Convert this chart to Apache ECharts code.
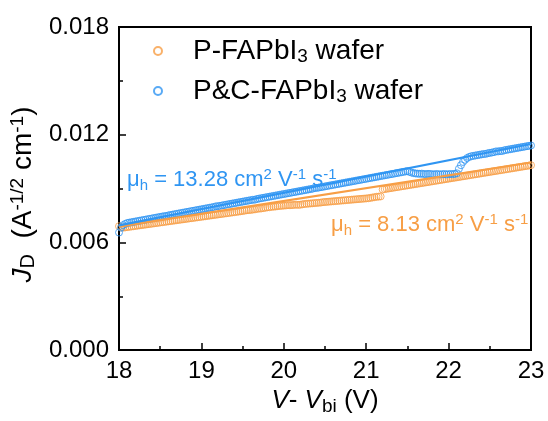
<!DOCTYPE html>
<html><head><meta charset="utf-8">
<script src="https://cdn.jsdelivr.net/npm/echarts@6/dist/echarts.min.js"></script>
<style>html,body{margin:0;padding:0;background:#fff}#c{width:548px;height:421px}</style>
</head><body><div id="c"></div>
<script>
// ---- data ----
const xValues = [
18,18.025,18.05,18.075,18.1,18.125,18.15,18.175,18.2,18.225,
18.25,18.275,18.3,18.325,18.35,18.375,18.4,18.425,18.45,18.475,
18.5,18.525,18.55,18.575,18.6,18.625,18.65,18.675,18.7,18.725,
18.75,18.775,18.8,18.825,18.85,18.875,18.9,18.925,18.95,18.975,
19,19.025,19.05,19.075,19.1,19.125,19.15,19.175,19.2,19.225,
19.25,19.275,19.3,19.325,19.35,19.375,19.4,19.425,19.45,19.475,
19.5,19.525,19.55,19.575,19.6,19.625,19.65,19.675,19.7,19.725,
19.75,19.775,19.8,19.825,19.85,19.875,19.9,19.925,19.95,19.975,
20,20.025,20.05,20.075,20.1,20.125,20.15,20.175,20.2,20.225,
20.25,20.275,20.3,20.325,20.35,20.375,20.4,20.425,20.45,20.475,
20.5,20.525,20.55,20.575,20.6,20.625,20.65,20.675,20.7,20.725,
20.75,20.775,20.8,20.825,20.85,20.875,20.9,20.925,20.95,20.975,
21,21.025,21.05,21.075,21.1,21.125,21.15,21.175,21.2,21.225,
21.25,21.275,21.3,21.325,21.35,21.375,21.4,21.425,21.45,21.475,
21.5,21.525,21.55,21.575,21.6,21.625,21.65,21.675,21.7,21.725,
21.75,21.775,21.8,21.825,21.85,21.875,21.9,21.925,21.95,21.975,
22,22.025,22.05,22.075,22.1,22.125,22.15,22.175,22.2,22.225,
22.25,22.275,22.3,22.325,22.35,22.375,22.4,22.425,22.45,22.475,
22.5,22.525,22.55,22.575,22.6,22.625,22.65,22.675,22.7,22.725,
22.75,22.775,22.8,22.825,22.85,22.875,22.9,22.925,22.95,22.975,
23];

const pFAPbI3 = [
0.00690,0.00684,0.006820,0.006836,0.006852,0.006868,0.006884,0.006900,0.006916,0.006932,
0.006948,0.006964,0.006980,0.006996,0.007012,0.007028,0.007044,0.007060,0.007076,0.007092,
0.007108,0.007124,0.007140,0.007156,0.007172,0.007188,0.007204,0.007220,0.007236,0.007252,
0.007268,0.007284,0.007300,0.007316,0.007332,0.007348,0.007364,0.007380,0.007396,0.007412,
0.007428,0.007444,0.007460,0.007476,0.007492,0.007508,0.007524,0.007540,0.007556,0.007572,
0.007588,0.007604,0.007620,0.007636,0.007652,0.007668,0.007684,0.007700,0.007716,0.007732,
0.007748,0.007770,0.007790,0.007800,0.007810,0.007830,0.007840,0.007870,0.007880,0.007890,
0.007910,0.007930,0.007950,0.007960,0.007980,0.007990,0.008000,0.008020,0.008030,0.008040,
0.008050,0.008060,0.008080,0.008070,0.008080,0.008090,0.008100,0.008090,0.008100,0.008120,
0.008140,0.008150,0.008160,0.008170,0.008180,0.008190,0.008200,0.008210,0.008220,0.008240,
0.008250,0.008260,0.008270,0.008280,0.008290,0.008300,0.008310,0.008320,0.008330,0.008340,
0.008350,0.008360,0.008370,0.008380,0.008390,0.008400,0.008410,0.008420,0.008430,0.008440,
0.008450,0.008460,0.008480,0.008500,0.008520,0.008540,0.008550,0.008560,0.008950,0.008969,
0.008988,0.009006,0.009025,0.009044,0.009063,0.009081,0.009100,0.009119,0.009138,0.009156,
0.009175,0.009194,0.009213,0.009231,0.009250,0.009269,0.009288,0.009306,0.009325,0.009344,
0.009363,0.009381,0.009400,0.009419,0.009438,0.009456,0.009475,0.009494,0.009513,0.009531,
0.009550,0.009569,0.009588,0.009606,0.009625,0.009644,0.009663,0.009681,0.009700,0.009719,
0.009738,0.009756,0.009775,0.009794,0.009813,0.009831,0.009850,0.009869,0.009888,0.009906,
0.009925,0.009944,0.009963,0.009981,0.010000,0.010019,0.010038,0.010056,0.010075,0.010094,
0.010113,0.010131,0.010150,0.010169,0.010188,0.010206,0.010225,0.010244,0.010263,0.010281,
0.010300];

const pcFAPbI3 = [
0.00655,0.00682,0.00696,0.00703,0.00708,0.007101,0.007123,0.007144,0.007165,0.007186,
0.007208,0.007229,0.007250,0.007271,0.007293,0.007314,0.007335,0.007356,0.007378,0.007399,
0.007420,0.007441,0.007463,0.007470,0.007505,0.007526,0.007548,0.007569,0.007590,0.007611,
0.007633,0.007654,0.007675,0.007696,0.007718,0.007739,0.007760,0.007781,0.007803,0.007824,
0.007845,0.007866,0.007888,0.007909,0.007930,0.007951,0.007973,0.008010,0.008015,0.008036,
0.008058,0.008079,0.008100,0.008121,0.008143,0.008164,0.008185,0.008206,0.008228,0.008249,
0.008270,0.008291,0.008313,0.008334,0.008355,0.008376,0.008380,0.008419,0.008440,0.008461,
0.008483,0.008504,0.008525,0.008546,0.008568,0.008589,0.008610,0.008631,0.008653,0.008674,
0.008695,0.008716,0.008738,0.008759,0.008780,0.008801,0.008823,0.008844,0.008865,0.008886,
0.008908,0.008929,0.008950,0.008971,0.008993,0.009030,0.009035,0.009056,0.009078,0.009099,
0.009120,0.009141,0.009163,0.009184,0.009205,0.009226,0.009248,0.009269,0.009290,0.009311,
0.009333,0.009354,0.009375,0.009396,0.009418,0.009439,0.009460,0.009481,0.009503,0.009524,
0.009545,0.009566,0.009588,0.009609,0.009630,0.009651,0.009673,0.009694,0.009715,0.009736,
0.009758,0.009779,0.009800,0.009821,0.009843,0.009864,0.009885,0.009906,0.009928,0.009949,
0.009970,0.009930,0.009890,0.009860,0.009840,0.009830,0.009820,0.009830,0.009810,0.009800,
0.009820,0.009810,0.009800,0.009790,0.009810,0.009800,0.009790,0.009800,0.009810,0.009790,
0.009800,0.009810,0.009800,0.009820,0.009850,0.010100,0.010300,0.010480,0.010600,0.010700,
0.010760,0.010800,0.010820,0.010841,0.010862,0.010883,0.010903,0.010924,0.010930,0.010966,
0.010986,0.011007,0.011028,0.011070,0.011069,0.011090,0.011090,0.011131,0.011152,0.011173,
0.011194,0.011214,0.011235,0.011256,0.011276,0.011297,0.011318,0.011339,0.011359,0.011380,
0.011400];

const fitX = [18, 23];
const pFitY = [0.00688, 0.01045];
const pcFitY = [0.00695, 0.01148];

const seriesNames = ['P-FAPbI3 wafer', 'P&C-FAPbI3 wafer'];
const yTickLabels = ['0.000', '0.006', '0.012', '0.018'];
const xTickLabels = ['18', '19', '20', '21', '22', '23'];

// ---- styling ----
const ORANGE = '#F79E45';
const BLUE = '#2F95F2';
const FONT = "'Liberation Sans', Arial, sans-serif";

const chart = echarts.init(document.getElementById('c'), null, {renderer: 'canvas'});

function pts(ys) { return xValues.map((x, i) => [x, ys[i]]); }
function fit(ys) { return fitX.map((x, i) => [x, ys[i]]); }

const option = {
  animation: false,
  backgroundColor: '#fff',
  grid: {left: 119, right: 17, top: 27, bottom: 64, show: true, borderColor: '#000', borderWidth: 2, backgroundColor: 'transparent'},
  legend: {
    data: seriesNames,
    orient: 'vertical',
    left: 148, top: 32,
    itemWidth: 8, itemHeight: 8, itemGap: 11,
    formatter: function (name) {
      return name === seriesNames[0]
        ? '{f|P-FAPbI}{s|3}{n| wafer}'
        : '{f|P&C-FAPbI}{s|3}{n| wafer}';
    },
    textStyle: {
      fontFamily: FONT, color: '#000',
      rich: {
        f: {fontSize: 28, fontFamily: FONT, color: '#000', lineHeight: 30, padding: [0, 0, 0, 26]},
        n: {fontSize: 28, fontFamily: FONT, color: '#000', lineHeight: 30},
        s: {fontSize: 19, fontFamily: FONT, color: '#000', lineHeight: 14, verticalAlign: 'bottom'}
      }
    }
  },
  xAxis: {
    type: 'value', min: 18, max: 23, interval: 1,
    axisLine: {show: true, lineStyle: {color: '#000', width: 2}},
    axisTick: {show: true, inside: true, length: 7, lineStyle: {color: '#000', width: 1.5}},
    minorTick: {show: true, splitNumber: 2, length: 4, lineStyle: {color: '#000', width: 1.5}},
    splitLine: {show: false},
    axisLabel: {fontSize: 24, fontFamily: FONT, color: '#000', margin: 9,
      formatter: v => xTickLabels[Math.round(v - 18)]},
    name: '{i|V}{n|- }{i|V}{s|bi}{n| (V)}',
    nameLocation: 'middle', nameGap: 31,
    nameTextStyle: {
      rich: {
        i: {fontSize: 26, fontFamily: FONT, fontStyle: 'italic', color: '#000', lineHeight: 30},
        n: {fontSize: 26, fontFamily: FONT, color: '#000', lineHeight: 30},
        s: {fontSize: 19, fontFamily: FONT, color: '#000', lineHeight: 14, verticalAlign: 'bottom'}
      }
    }
  },
  yAxis: {
    type: 'value', min: 0, max: 0.018, interval: 0.006,
    axisLine: {show: true, lineStyle: {color: '#000', width: 2}},
    axisTick: {show: true, inside: true, length: 7, lineStyle: {color: '#000', width: 1.5}},
    minorTick: {show: true, splitNumber: 2, length: 4, lineStyle: {color: '#000', width: 1.5}},
    splitLine: {show: false},
    axisLabel: {fontSize: 24, fontFamily: FONT, color: '#000', margin: 10,
      formatter: v => yTickLabels[Math.round(v / 0.006)]},
    name: '{i|J}{s|D}{n|  (A}{p|-1/2}{n| cm}{p|-1}{n|)}',
    nameLocation: 'middle', nameRotate: 90, nameGap: 74,
    nameTextStyle: {
      padding: [0, 12, 0, 0],
      rich: {
        i: {fontSize: 28, fontFamily: FONT, fontStyle: 'italic', color: '#000', lineHeight: 30},
        n: {fontSize: 28, fontFamily: FONT, color: '#000', lineHeight: 30},
        s: {fontSize: 20, fontFamily: FONT, color: '#000', lineHeight: 15, verticalAlign: 'bottom'},
        p: {fontSize: 19, fontFamily: FONT, color: '#000', lineHeight: 15, verticalAlign: 'top'}
      }
    }
  },
  series: [
    {
      name: seriesNames[0], type: 'scatter', data: pts(pFAPbI3),
      symbol: 'circle', symbolSize: 7,
      itemStyle: {color: 'rgba(255,255,255,0)', borderColor: ORANGE, borderWidth: 1}
    },
    {
      name: seriesNames[1], type: 'scatter', data: pts(pcFAPbI3),
      symbol: 'circle', symbolSize: 7,
      itemStyle: {color: 'rgba(255,255,255,0)', borderColor: BLUE, borderWidth: 1}
    },
    {
      name: 'pfit', type: 'line', data: fit(pFitY), showSymbol: false, silent: true,
      lineStyle: {color: ORANGE, width: 2.2}, itemStyle: {color: ORANGE}
    },
    {
      name: 'pcfit', type: 'line', data: fit(pcFitY), showSymbol: false, silent: true,
      lineStyle: {color: BLUE, width: 2.2}, itemStyle: {color: BLUE}
    }
  ],
  graphic: [
    {
      type: 'text', left: 127, top: 167,
      style: {
        text: '{m|μ}{s|h}{m| = 13.28 cm}{p|2}{m| V}{p|-1}{m| s}{p|-1}',
        rich: {
          m: {fontSize: 22, fontFamily: FONT, fill: BLUE, lineHeight: 26},
          s: {fontSize: 15, fontFamily: FONT, fill: BLUE, lineHeight: 12, verticalAlign: 'bottom'},
          p: {fontSize: 15, fontFamily: FONT, fill: BLUE, lineHeight: 13, verticalAlign: 'top'}
        }
      }
    },
    {
      type: 'text', left: 331, top: 212,
      style: {
        text: '{m|μ}{s|h}{m| = 8.13 cm}{p|2}{m| V}{p|-1}{m| s}{p|-1}',
        rich: {
          m: {fontSize: 22, fontFamily: FONT, fill: ORANGE, lineHeight: 26},
          s: {fontSize: 15, fontFamily: FONT, fill: ORANGE, lineHeight: 12, verticalAlign: 'bottom'},
          p: {fontSize: 15, fontFamily: FONT, fill: ORANGE, lineHeight: 13, verticalAlign: 'top'}
        }
      }
    }
  ]
};
chart.setOption(option);
</script>
</body></html>
